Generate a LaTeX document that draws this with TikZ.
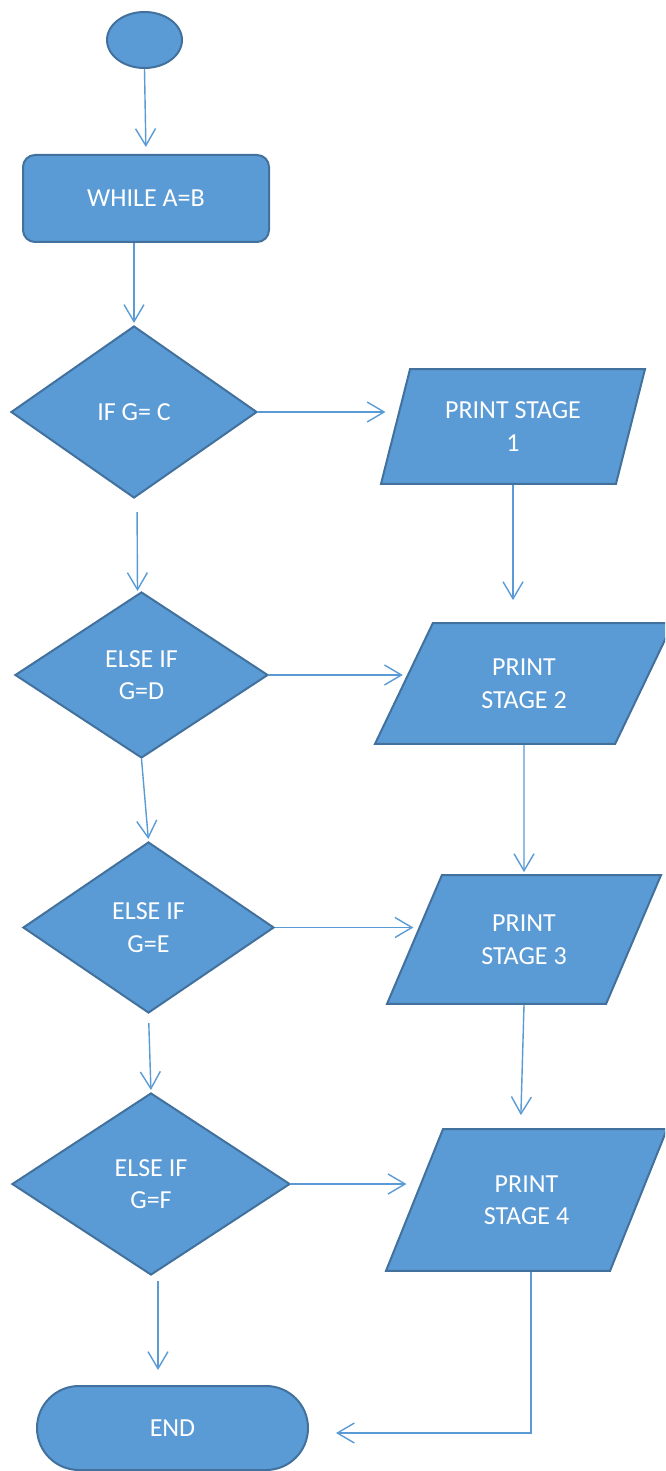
\documentclass[tikz,border=0pt]{standalone}
\usepackage{fontspec}
\setmainfont{Carlito}
\usetikzlibrary{shapes.geometric,shapes.misc,arrows.meta}
\definecolor{fillblue}{HTML}{5B9BD5}
\definecolor{edgeblue}{HTML}{41719C}
\definecolor{linkblue}{HTML}{5B9BD5}
\begin{document}
\begin{tikzpicture}[x=1pt,y=-1pt,
  box/.style={fill=fillblue,draw=edgeblue,line width=2pt,text=white,
    font=\fontsize{26}{32.5}\selectfont,align=center,inner sep=0pt},
  startnode/.style={box,ellipse,minimum width=75pt,minimum height=56pt},
  loopbox/.style={box,rectangle,rounded corners=12pt,minimum width=246pt,minimum height=87pt},
  decision/.style={box,diamond},
  printbox/.style={box,trapezium,trapezium stretches body},
  endnode/.style={box,rounded rectangle,minimum width=271pt,minimum height=84pt},
  conn/.style={draw=linkblue,line width=1.4pt,-{Straight Barb[length=17pt,width=20pt]}}
]
\path[use as bounding box] (0,0) rectangle (665,1471);
\fill[white] (0,0) rectangle (665,1471);
\clip (0,0) rectangle (665,1471);

\node[startnode] (start) at (144.5,40) {};
\node[loopbox] (while) at (146,198.5) {WHILE A=B};
\node[decision,minimum width=246pt,minimum height=172pt] (d1) at (134,412) {IF G= C};
\node[decision,minimum width=253pt,minimum height=166pt] (d2) at (141.5,675) {ELSE IF\\G=D};
\node[decision,minimum width=251pt,minimum height=171pt] (d3) at (148.5,927.5) {ELSE IF\\G=E};
\node[decision,minimum width=278pt,minimum height=182pt] (d4) at (151,1184) {ELSE IF\\G=F};
\node[printbox,inner ysep=32.7pt,trapezium left angle=75.8,trapezium right angle=104.2,minimum width=264pt] (p1) at (513,426.5) {PRINT STAGE\\1};
\node[printbox,inner ysep=35.7pt,trapezium left angle=64.4,trapezium right angle=115.6,minimum width=298pt] (p2) at (524,683.5) {PRINT\\STAGE 2};
\node[printbox,inner ysep=39.7pt,trapezium left angle=66.9,trapezium right angle=113.1,minimum width=274pt] (p3) at (524,939.5) {PRINT\\STAGE 3};
\node[printbox,inner ysep=46.2pt,trapezium left angle=68.1,trapezium right angle=111.9,minimum width=281pt] (p4) at (526.5,1200) {PRINT\\STAGE 4};
\node[endnode] (end) at (172.5,1428) {END};

\draw[conn,shorten >=7pt] (start.south) -- (while.north);
\draw[conn,shorten >=2pt] (while.south -| d1.north) -- (d1.north);
\draw[conn,shorten >=9pt] (d1.east) -- (d1.east -| p1.west);
\draw[conn,shorten <=13pt] ([xshift=3pt]d1.south) -- ([xshift=-4pt]d2.north);
\draw[conn,shorten >=22pt] (p1.south) -- (p1.south |- p2.north);
\draw[conn] (d2.east) -- (d2.east -| p2.west);
\draw[conn,shorten >=2pt] (d2.south) -- (d3.north);
\draw[conn,shorten >=2pt] (p2.south) -- (p3.north);
\draw[conn] (d3.east) -- (d3.east -| p3.west);
\draw[conn,shorten <=9pt,shorten >=2pt] (d3.south) -- (d4.north);
\draw[conn,shorten >=13pt] (p3.south) -- ([xshift=-6pt]p4.north);
\draw[conn,shorten >=7pt] (d4.east) -- (d4.east -| p4.west);
\draw[conn,shorten <=5pt,shorten >=15pt] ([xshift=7pt]d4.south) -- ([xshift=-14.5pt]end.north);
\draw[conn,shorten >=27pt] ([xshift=4.5pt]p4.south) |- ([yshift=-5pt]end.east);
\end{tikzpicture}
\end{document}
